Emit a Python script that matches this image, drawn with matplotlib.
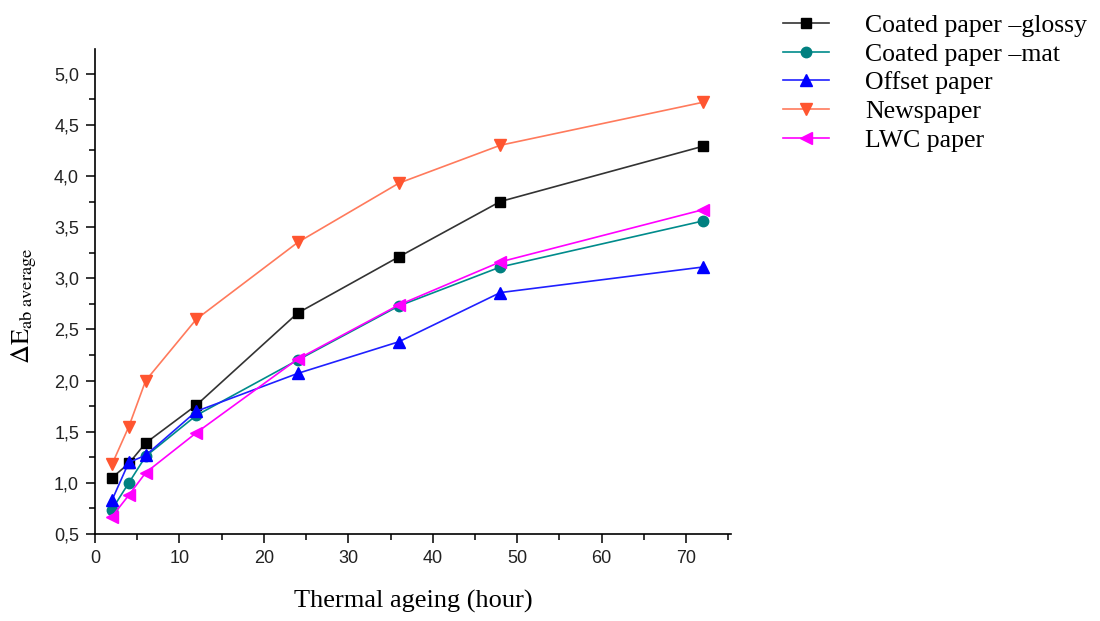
import matplotlib.pyplot as plt
from matplotlib.ticker import MultipleLocator, FuncFormatter

plt.rcParams['mathtext.fontset'] = 'stix'

# ageing time (hours)
hours = [2, 4, 6, 12, 24, 36, 48, 72]

# average colour difference per paper type
glossy = [1.05, 1.19, 1.39, 1.76, 2.66, 3.21, 3.75, 4.29]
mat = [0.74, 1.00, 1.26, 1.66, 2.20, 2.73, 3.11, 3.56]
offset = [0.83, 1.20, 1.27, 1.70, 2.07, 2.38, 2.86, 3.11]
newspaper = [1.18, 1.55, 2.00, 2.60, 3.35, 3.93, 4.30, 4.72]
lwc = [0.67, 0.88, 1.10, 1.49, 2.21, 2.74, 3.16, 3.67]

labels = ['Coated paper \u2013glossy', 'Coated paper \u2013mat', 'Offset paper',
          'Newspaper', 'LWC paper']

fig = plt.figure(figsize=(11, 6.21), dpi=100)
ax = fig.add_axes([0.0864, 0.140, 0.578, 0.781])

ax.plot(hours, glossy, color='#333333', marker='s', mfc='black', mec='black',
        ms=7, lw=1.2, label=labels[0])
ax.plot(hours, mat, color='#008b8b', marker='o', mfc='#008080', mec='#008080',
        ms=7.5, lw=1.2, label=labels[1])
ax.plot(hours, offset, color='#2020ff', marker='^', mfc='blue', mec='blue',
        ms=8.5, lw=1.2, label=labels[2])
ax.plot(hours, newspaper, color='#ff7a5c', marker='v', mfc='#ff5530', mec='#ff5530',
        ms=8.5, lw=1.2, label=labels[3])
ax.plot(hours, lwc, color='#ff00ff', marker='<', mfc='#ff00ff', mec='#ff00ff',
        ms=8.5, lw=1.2, label=labels[4])

ax.set_xlim(0, 75.3)
ax.set_ylim(0.5, 5.24)
ax.xaxis.set_major_locator(MultipleLocator(10))
ax.xaxis.set_minor_locator(MultipleLocator(5))
ax.yaxis.set_major_locator(MultipleLocator(0.5))
ax.yaxis.set_minor_locator(MultipleLocator(0.25))
ax.yaxis.set_major_formatter(FuncFormatter(lambda v, p: f'{v:.1f}'.replace('.', ',')))

ax.spines['top'].set_visible(False)
ax.spines['right'].set_visible(False)
for s in ['left', 'bottom']:
    ax.spines[s].set_linewidth(1.2)
ax.tick_params(which='major', direction='out', length=6.5, width=1.1, pad=5,
               labelsize=13, labelfontfamily='Liberation Sans', labelcolor='#222222')
ax.tick_params(which='minor', direction='out', length=4, width=1.1)

ax.set_xlabel('Thermal ageing (hour)', fontsize=19, family='Liberation Serif')
ax.xaxis.set_label_coords(0.5, -0.115)
ax.set_ylabel(r'$\Delta\mathrm{E}_{\mathrm{ab\ average}}$', fontsize=19)
ax.yaxis.set_label_coords(-0.088, 0.47)

ax.legend(loc='upper left', bbox_to_anchor=(0.700, 0.998), bbox_transform=fig.transFigure,
          frameon=False, prop={'family': 'Liberation Serif', 'size': 18.5},
          handlelength=1.8, handletextpad=1.4, labelspacing=0.22, borderpad=0)

fig.savefig('out.png', dpi=100)
